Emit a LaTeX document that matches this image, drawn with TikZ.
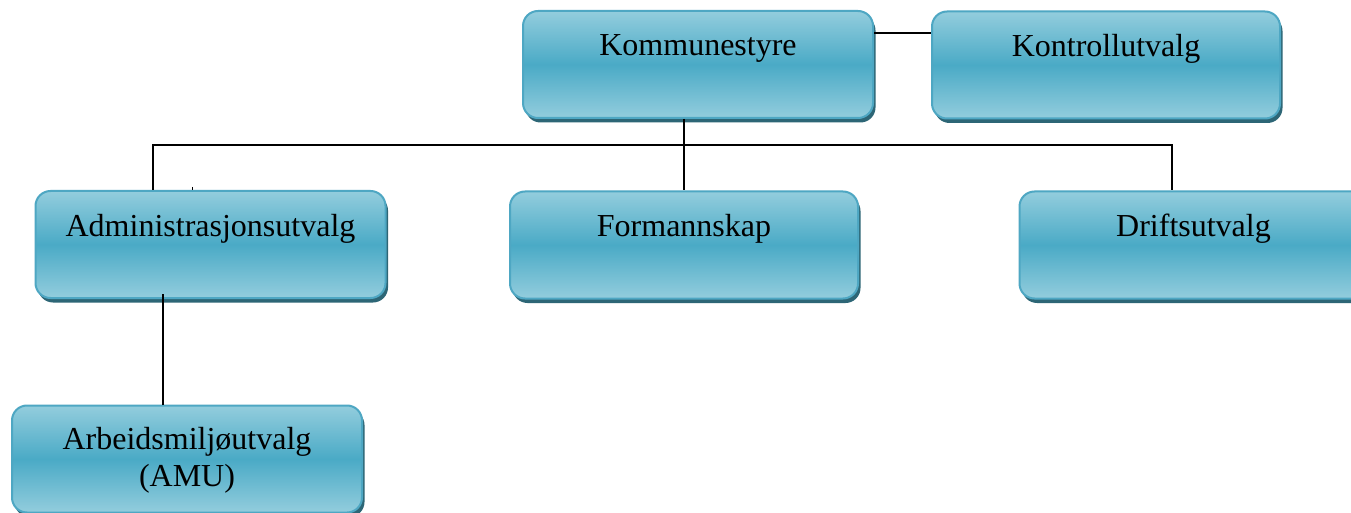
\documentclass[tikz,border=0pt]{standalone}
\usepackage{fontspec}
\setmainfont{Liberation Serif}
\usetikzlibrary{shadows}
\definecolor{boxlight}{HTML}{93CDDD}
\definecolor{boxdark}{HTML}{4AAAC6}
\definecolor{boxedge}{HTML}{4EA7C3}
\definecolor{boxshadow}{HTML}{2D6676}
\tikzset{
  orgbox/.style={rectangle, rounded corners=15pt, draw=boxedge, line width=2pt,
    top color=boxlight, bottom color=boxlight, middle color=boxdark,
    minimum width=#1, minimum height=107pt, inner sep=0pt,
    general shadow={fill=boxshadow, shadow xshift=2.5pt, shadow yshift=-4.5pt}},
  orgbox/.default=348pt,
  lbl/.style={anchor=base, inner sep=0pt, font=\fontsize{32}{37}\selectfont},
  link/.style={draw=black, line width=1.5pt}
}
\begin{document}
\begin{tikzpicture}[x=1pt,y=-1pt]
\clip (0,0) rectangle (1351,513);
\fill[white] (0,0) rectangle (1351,513);
% boxes
\node[orgbox=350pt] (kom) at (698,64.5) {};
\node[orgbox] (kon) at (1106,65) {};
\node[orgbox=350pt] (adm) at (210.5,244.5) {};
\node[orgbox] (for) at (684,245) {};
\node[orgbox] (dri) at (1193.5,245) {};
\node[orgbox=350pt] (amu) at (187,459) {};
% connectors
\coordinate (j) at (684,145);
\coordinate (ja) at (153,145);
\coordinate (jd) at (1172,145);
\coordinate (ka) at (0,33);
\coordinate (av) at (163,0);
\draw[link] (kom.east |- ka) -- (kon.west |- ka);
\draw[link] (kom.south -| j) -- (j) -- (j |- for.north);
\draw[link] (ja |- adm.north) -- (ja) -- (jd) -- (jd |- dri.north);
\draw[link] ([yshift=5pt]adm.south -| av) -- (amu.north -| av);
\coordinate (tick) at (192,187);
\draw[line width=1pt] (tick) -- ++(0,3);
% labels
\node[lbl] (kom-t) at ([yshift=-46pt]kom.north) {Kommunestyre};
\node[lbl] (kon-t) at ([yshift=-46pt]kon.north) {Kontrollutvalg};
\node[lbl] (adm-t) at ([yshift=-46pt]adm.north) {Administrasjonsutvalg};
\node[lbl] (for-t) at ([yshift=-46pt]for.north) {Formannskap};
\node[lbl] (dri-t) at ([yshift=-46pt]dri.north) {Driftsutvalg};
\node[lbl] (amu-t1) at ([yshift=-45pt]amu.north) {Arbeidsmiljøutvalg};
\node[lbl] (amu-t2) at ([yshift=-82pt]amu.north) {(AMU)};
\end{tikzpicture}
\end{document}
